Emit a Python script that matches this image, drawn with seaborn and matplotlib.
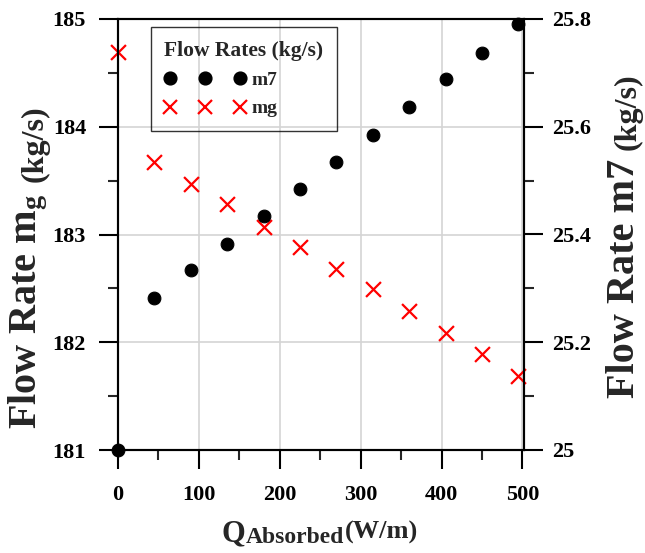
import matplotlib
matplotlib.use("Agg")
import matplotlib.pyplot as plt
from matplotlib.ticker import MultipleLocator, FuncFormatter
from matplotlib.lines import Line2D
import seaborn as sns

# values
q_absorbed = [0, 45, 90, 135, 180, 225, 270, 315, 360, 405, 450, 495]
m7 = [25.000, 25.282, 25.334, 25.382, 25.434, 25.484, 25.534, 25.584, 25.636, 25.688, 25.737, 25.790]
mg = [184.69, 183.67, 183.47, 183.28, 183.07, 182.88, 182.68, 182.49, 182.29, 182.09, 181.89, 181.69]

sns.set_theme(style="ticks")
plt.rcParams["font.family"] = ["Liberation Serif", "DejaVu Serif"]
plt.rcParams["font.weight"] = "bold"
plt.rcParams["axes.labelweight"] = "bold"
plt.rcParams["mathtext.fontset"] = "custom"
plt.rcParams["mathtext.rm"] = "Liberation Serif:bold"
plt.rcParams["mathtext.it"] = "Liberation Serif:bold"
plt.rcParams["mathtext.bf"] = "Liberation Serif:bold"

fig, ax = plt.subplots(figsize=(6.45, 5.53), dpi=100)
fig.subplots_adjust(left=118/645, right=524/645, bottom=1-450/553, top=1-19/553)
ax2 = ax.twinx()

sns.scatterplot(x=q_absorbed, y=mg, ax=ax, marker="x", color="#ff0000", s=115,
                linewidth=1.6, legend=False, clip_on=False, zorder=3)
sns.scatterplot(x=q_absorbed, y=m7, ax=ax2, marker="o", color="black", edgecolor="black",
                s=85, legend=False, clip_on=False, zorder=3)

ax.set_xlim(0, 502)
ax.set_ylim(181, 185)
ax2.set_ylim(25, 25.8)

ax.xaxis.set_major_locator(MultipleLocator(100))
ax.xaxis.set_minor_locator(MultipleLocator(50))
ax.yaxis.set_major_locator(MultipleLocator(1))
ax.yaxis.set_minor_locator(MultipleLocator(0.5))
ax2.yaxis.set_major_locator(MultipleLocator(0.2))
ax2.yaxis.set_minor_locator(MultipleLocator(0.1))
fmt = FuncFormatter(lambda v, p: f"{v:g}")
ax.yaxis.set_major_formatter(fmt)
ax2.yaxis.set_major_formatter(fmt)

ax.grid(True, which="major", color="#d4d4d4", linewidth=1.2)
ax.set_axisbelow(True)

for a in (ax, ax2):
    for sp in a.spines.values():
        sp.set_linewidth(1.5)
        sp.set_color("black")
    a.tick_params(which="major", length=14, width=1.5, direction="out", labelsize=16, colors="black")
    a.tick_params(which="minor", length=7, width=1.5, direction="out")
ax.tick_params(axis="y", which="major", pad=9)
ax.tick_params(axis="x", which="major", pad=11)
ax2.tick_params(axis="y", which="major", pad=6)

# x label: Q, subscript, unit
ax.set_xlabel("Q", fontsize=22)
ax.xaxis.set_label_coords(0.2845, -0.160)
sub = ax.annotate("Absorbed", xy=(1, 0), xycoords=ax.xaxis.label, xytext=(0.5, 3.5),
                  textcoords="offset points", ha="left", va="baseline", fontsize=17,
                  fontweight="bold", annotation_clip=False)
ax.annotate("(W/m)", xy=(1, 1), xycoords=(sub, ax.xaxis.label), xytext=(0, -1.5),
            textcoords="offset points", ha="left", va="top", fontsize=19,
            fontweight="bold", annotation_clip=False)

ax.set_ylabel(r"Flow Rate m$_{\mathregular{g}}$", fontsize=29)
ax.yaxis.set_label_coords(-0.1675, 0.3225)
ax.annotate("(kg/s)", xy=(1, 1), xycoords=ax.yaxis.label, xytext=(0, 8),
            textcoords="offset points", rotation=90, ha="right", va="bottom",
            fontsize=23, fontweight="bold", annotation_clip=False)

ax2.set_ylabel("Flow Rate m7", fontsize=29)
ax2.yaxis.set_label_coords(1.202, 0.399)
ax2.annotate("(kg/s)", xy=(1, 1), xycoords=ax2.yaxis.label, xytext=(0, 6),
             textcoords="offset points", rotation=90, ha="right", va="bottom",
             fontsize=23, fontweight="bold", annotation_clip=False)

# legend with both series
handles = [
    Line2D([], [], ls="none", marker="o", color="black", markersize=9.2),
    Line2D([], [], ls="none", marker="x", color="#ff0000", markersize=10.7, markeredgewidth=1.6),
]
leg = ax2.legend(handles, ["m7", "mg"], title="Flow Rates (kg/s)", loc="upper left",
                 bbox_to_anchor=(0.081, 0.981), borderaxespad=0, numpoints=3,
                 handlelength=4.2, handletextpad=0.25, alignment="left",
                 borderpad=0.7, labelspacing=0.55, fancybox=False, frameon=True,
                 prop={"size": 14, "weight": "bold"},
                 title_fontproperties={"size": 15.5, "weight": "bold"})
leg.get_frame().set_facecolor("none")
leg.get_frame().set_edgecolor("black")
leg.get_frame().set_linewidth(1.0)

fig.savefig("out.png", dpi=100)
